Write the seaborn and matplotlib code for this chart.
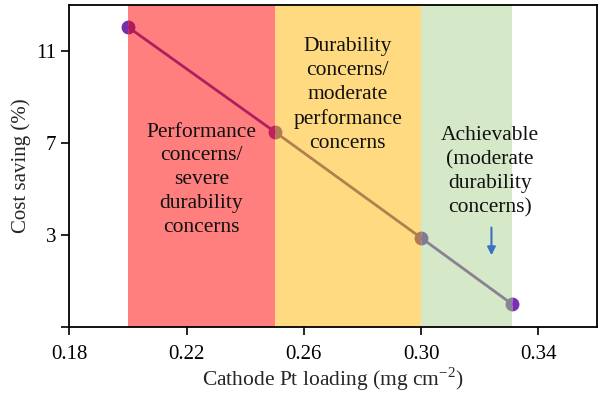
import numpy as np
import pandas as pd
import seaborn as sns
import matplotlib.pyplot as plt

# data
pt_loading = [0.20, 0.25, 0.30, 0.331]
cost_saving = [12.05, 7.5, 2.88, 0.0]
band_edges = [0.20, 0.25, 0.30, 0.331]
band_colors = ["#ff7f7f", "#ffda80", "#d5e8c8"]
seg_colors = ["#b01e5e", "#b0804f", "#8a8194"]
marker_left = ["#7330a8", "#c01f5c", "#b07a58", "#8a8595"]
marker_right = ["#b01a5c", "#b07c55", "#7f7b92", "#7a2fb5"]
x_ticks = [0.18, 0.22, 0.26, 0.30, 0.34]
y_ticks = [-1, 3, 7, 11]
y_ticklabels = ["", "3", "7", "11"]

sns.set_style("ticks")
plt.rcParams["font.family"] = ["Liberation Serif", "DejaVu Serif"]
plt.rcParams["mathtext.fontset"] = "stix"

fig = plt.figure(figsize=(6, 3.95), dpi=100)
ax = fig.add_axes([0.1155, 0.172, 0.8795, 0.815])

for i in range(3):
    ax.axvspan(band_edges[i], band_edges[i + 1], color=band_colors[i], lw=0, zorder=0)

segs = []
for i in range(3):
    segs.append(pd.DataFrame({"x": pt_loading[i:i + 2], "y": cost_saving[i:i + 2], "seg": f"s{i}"}))
df = pd.concat(segs)
sns.lineplot(data=df, x="x", y="y", hue="seg", palette=seg_colors, lw=2, legend=False, ax=ax, zorder=2)

for i in range(4):
    ax.plot(pt_loading[i], cost_saving[i], marker="o", ms=10, fillstyle="left",
            markerfacecolor=marker_left[i], markerfacecoloralt=marker_right[i],
            markeredgewidth=0, zorder=3)

txt = dict(ha="center", va="center", fontsize=15.5, linespacing=1.35, color="#111111")
ax.text(0.225, 5.4, "Performance\nconcerns/\nsevere\ndurability\nconcerns", **txt)
ax.text(0.275, 9.1, "Durability\nconcerns/\nmoderate\nperformance\nconcerns", **txt)
ax.text(0.3235, 5.75, "Achievable\n(moderate\ndurability\nconcerns)", **txt)

ax.annotate("", xy=(0.324, 2.0), xytext=(0.324, 3.45),
            arrowprops=dict(arrowstyle="-|>", color="#3a6fc8", lw=1.5, mutation_scale=12))

ax.set_xlim(0.18, 0.36)
ax.set_ylim(-1, 13)
ax.set_xticks(x_ticks)
ax.set_xticklabels([f"{t:.2f}" for t in x_ticks])
ax.set_yticks(y_ticks)
ax.set_yticklabels(y_ticklabels)
ax.tick_params(labelsize=15, length=6, width=1.2, direction="out", colors="black")
ax.tick_params(axis="x", pad=7)
for s in ax.spines.values():
    s.set_linewidth(1.3)
    s.set_color("black")

ax.set_xlabel(r"Cathode Pt loading (mg cm$^{\mathregular{-2}}$)", fontsize=15.5, labelpad=1)
ax.set_ylabel("Cost saving (%)", fontsize=15)

fig.savefig("out.png", dpi=100)
